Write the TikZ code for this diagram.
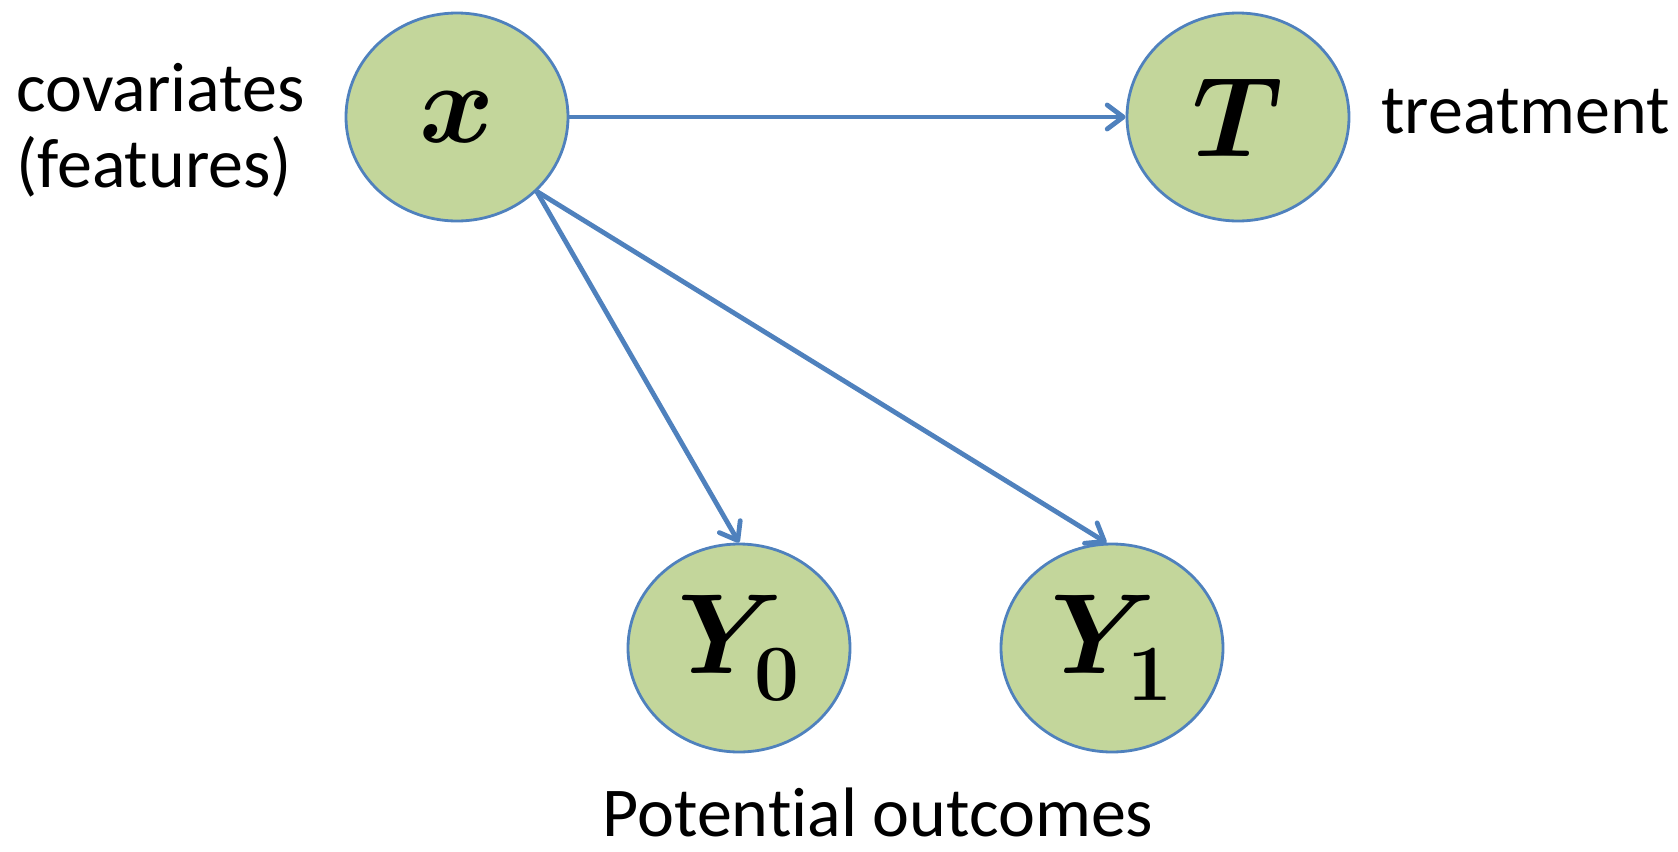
\RequirePackage{fix-cm}
\documentclass[tikz,border=0pt]{standalone}
\usepackage[no-math]{fontspec}
\setmainfont{Carlito}[Ligatures = NoCommon]
\usepackage{amsmath}
\usepackage{bm}
\usetikzlibrary{shapes.geometric,arrows.meta,positioning}
\definecolor{nodegreen}{HTML}{C3D69B}
\definecolor{edgeblue}{HTML}{4F81BD}
\newcommand{\lowsub}[1]{\raisebox{-5pt}{$\scriptstyle\mathbf{#1}$}}

\begin{document}
\begin{tikzpicture}[x = 0.5pt, y = -0.5pt,
        var/.style = {ellipse, draw = edgeblue, line width = 1.4pt, fill = nodegreen,
            minimum width = 111pt, minimum height = 104pt, inner sep = 0pt,
            font = \fontsize{57}{60}\selectfont},
        link/.style = {draw = edgeblue, line width = 2.4pt,
            -{Straight Barb[length = 8pt, width = 12pt, round]}},
        lbl/.style = {inner sep = 0pt, font = \fontsize{35}{38}\selectfont}]
        \useasboundingbox (0, 0) rectangle (1678, 852);

        \node [var] (x) at (457, 117) {$\bm{x}$};
        \node [var] (t) at (1238, 117) {$\bm{T}$};
        \node [var] (y0) at (739, 648) {$\bm{Y}_{\lowsub{0}}$};
        \node [var] (y1) at (1112, 648) {$\bm{Y}_{\lowsub{1}}$};

        \node [lbl, align = left, anchor = west] (cov) at (16, 130) {covariates\\(features)};
        \node [lbl, anchor = base west] (treat) at (1381, 133) {treatment};
        \node [lbl, anchor = base] (pot) at (878, 836) {Potential outcomes};

        \coordinate (xout) at (x.-43.5);
        \draw [link] (x.east) -- (t.west);
        \draw [link] (xout) -- (y0.north);
        \draw [link] (xout) -- (y1.93);
    \end{tikzpicture}
\end{document}
